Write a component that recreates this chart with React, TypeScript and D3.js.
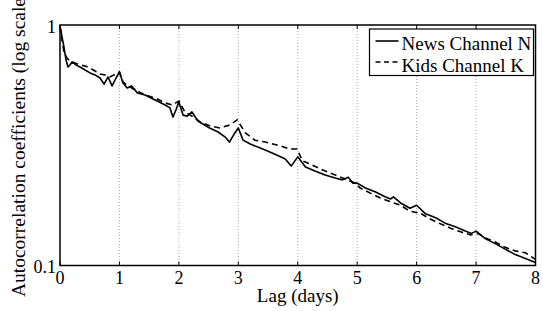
import { useMemo } from 'react'
import * as d3 from 'd3'

// lag in days, autocorrelation coefficient
const newsLag = [0, 0.017, 0.034, 0.067, 0.101, 0.135, 0.168, 0.202, 0.269, 0.337, 0.421, 0.505, 0.589, 0.674, 0.741, 0.808, 0.876, 0.943, 1.0, 1.06, 1.13, 1.2, 1.25, 1.3, 1.43, 1.6, 1.77, 1.85, 1.9, 1.95, 2.0, 2.07, 2.14, 2.22, 2.32, 2.49, 2.66, 2.78, 2.85, 2.93, 3.0, 3.08, 3.2, 3.37, 3.54, 3.71, 3.79, 3.89, 4.0, 4.13, 4.29, 4.46, 4.63, 4.75, 4.85, 4.93, 5.0, 5.14, 5.31, 5.47, 5.56, 5.61, 5.73, 5.89, 6.0, 6.15, 6.32, 6.48, 6.65, 6.82, 6.92, 7.0, 7.16, 7.33, 7.49, 7.66, 7.83, 8.0]
const newsVal = [0.98, 0.944, 0.891, 0.81, 0.715, 0.669, 0.682, 0.702, 0.682, 0.669, 0.65, 0.632, 0.62, 0.602, 0.568, 0.608, 0.558, 0.602, 0.638, 0.574, 0.547, 0.558, 0.542, 0.522, 0.512, 0.488, 0.465, 0.452, 0.414, 0.443, 0.478, 0.422, 0.418, 0.435, 0.399, 0.376, 0.359, 0.342, 0.326, 0.352, 0.373, 0.332, 0.32, 0.308, 0.296, 0.283, 0.277, 0.259, 0.283, 0.257, 0.247, 0.238, 0.231, 0.227, 0.233, 0.22, 0.22, 0.21, 0.202, 0.193, 0.189, 0.193, 0.182, 0.173, 0.178, 0.164, 0.158, 0.15, 0.145, 0.139, 0.136, 0.139, 0.129, 0.123, 0.117, 0.111, 0.107, 0.103]

const kidsLag = [0, 0.034, 0.067, 0.118, 0.168, 0.253, 0.337, 0.421, 0.505, 0.589, 0.674, 0.758, 0.842, 0.943, 1.0, 1.06, 1.15, 1.26, 1.43, 1.6, 1.77, 1.89, 2.0, 2.1, 2.22, 2.36, 2.53, 2.69, 2.86, 2.98, 3.12, 3.28, 3.45, 3.71, 3.87, 3.99, 4.08, 4.21, 4.38, 4.55, 4.8, 4.97, 5.05, 5.22, 5.39, 5.56, 5.73, 5.89, 6.06, 6.23, 6.4, 6.57, 6.74, 6.91, 7.03, 7.16, 7.33, 7.49, 7.66, 7.83, 8.0]
const kidsVal = [0.99, 0.866, 0.772, 0.729, 0.708, 0.695, 0.682, 0.675, 0.663, 0.644, 0.626, 0.62, 0.608, 0.626, 0.638, 0.579, 0.558, 0.537, 0.512, 0.497, 0.474, 0.465, 0.483, 0.435, 0.418, 0.395, 0.38, 0.373, 0.384, 0.403, 0.356, 0.332, 0.326, 0.314, 0.305, 0.305, 0.272, 0.264, 0.252, 0.242, 0.229, 0.22, 0.21, 0.2, 0.191, 0.184, 0.178, 0.168, 0.165, 0.156, 0.149, 0.143, 0.138, 0.134, 0.136, 0.13, 0.125, 0.119, 0.115, 0.113, 0.106]

const xTicks = [0, 1, 2, 3, 4, 5, 6, 7, 8]
const yTicks = [0.1, 1]
const seriesNames = ['News Channel N', 'Kids Channel K']

const W = 543
const H = 311
const margin = { top: 25, right: 7.5, bottom: 45.5, left: 60 }
const font = '"Liberation Serif", "Times New Roman", serif'

export default function App() {
  const innerW = W - margin.left - margin.right
  const innerH = H - margin.top - margin.bottom

  const x = d3.scaleLinear().domain([0, 8]).range([0, innerW])
  const y = d3.scaleLog().domain([0.1, 1]).range([innerH, 0])

  const { newsPath, kidsPath } = useMemo(() => {
    const ln = d3.line<[number, number]>().x(d => x(d[0])).y(d => y(d[1]))
    return {
      newsPath: ln(newsLag.map((l, i) => [l, newsVal[i]])) ?? '',
      kidsPath: ln(kidsLag.map((l, i) => [l, kidsVal[i]])) ?? '',
    }
  }, [innerW, innerH])

  return (
    <svg width={W} height={H} style={{ position: 'absolute', left: 0, top: 0, background: '#fff' }} fontFamily={font}>
      <g transform={`translate(${margin.left},${margin.top})`}>
        {xTicks.slice(1, -1).map(t => (
          <line key={`g${t}`} x1={x(t)} x2={x(t)} y1={0} y2={innerH} stroke="#aaa" strokeWidth={1} strokeDasharray="1,2" />
        ))}

        <path d={kidsPath} fill="none" stroke="#000" strokeWidth={1.6} strokeDasharray="6,4" />
        <path d={newsPath} fill="none" stroke="#000" strokeWidth={1.6} strokeLinejoin="round" />

        <rect x={0} y={0} width={innerW} height={innerH} fill="none" stroke="#000" strokeWidth={1.5} />

        {xTicks.map(t => (
          <g key={`t${t}`}>
            <line x1={x(t)} x2={x(t)} y1={innerH} y2={innerH - 4} stroke="#000" />
            <line x1={x(t)} x2={x(t)} y1={0} y2={4} stroke="#000" />
            <text x={x(t)} y={innerH + 18.5} textAnchor="middle" fontSize={18}>{t}</text>
          </g>
        ))}
        {yTicks.map(t => (
          <text key={`y${t}`} x={-4} y={y(t) + 7.5} textAnchor="end" fontSize={18}>{t}</text>
        ))}

        <text x={innerW / 2} y={innerH + 36} textAnchor="middle" fontSize={19}>Lag (days)</text>
        <text transform={`translate(${-35},${innerH / 2 - 1}) rotate(-90)`} textAnchor="middle" fontSize={19.5}>
          Autocorrelation coefficients (log scale)
        </text>

        <g transform={`translate(${innerW - 166},4)`}>
          <rect x={0} y={0} width={164} height={46.5} fill="#fff" stroke="#000" strokeWidth={1.2} />
          <line x1={6} x2={29} y1={12} y2={12} stroke="#000" strokeWidth={1.6} />
          <line x1={6} x2={29} y1={33} y2={33} stroke="#000" strokeWidth={1.6} strokeDasharray="5,3.5" />
          <text x={32} y={21} fontSize={19}>{seriesNames[0]}</text>
          <text x={32} y={43} fontSize={19}>{seriesNames[1]}</text>
        </g>
      </g>
    </svg>
  )
}
